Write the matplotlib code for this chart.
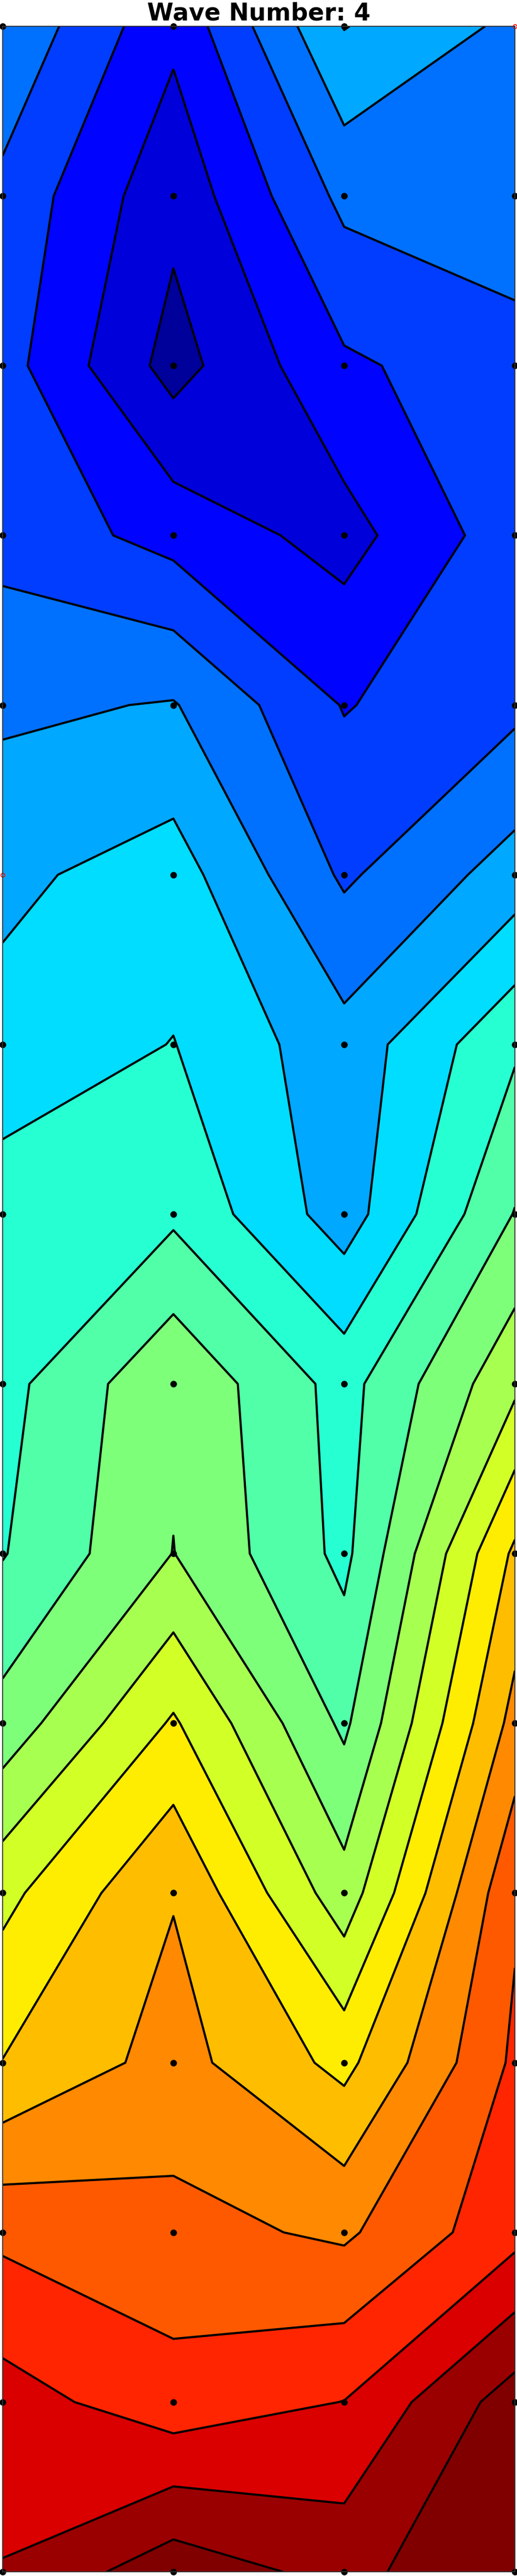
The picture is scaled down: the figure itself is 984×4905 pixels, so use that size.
import numpy as np
import matplotlib
matplotlib.use('Agg')
import matplotlib.pyplot as plt

# grid nodes
x_nodes = [0, 1, 2, 3]
y_nodes = list(range(16))

# field values down each column (top row first), in contour-level units
col0 = [4.87, 3.73, 3.41, 3.66, 4.80, 5.78, 6.33, 7.53, 7.66, 7.94, 9.38, 11.71, 13.03, 15.77, 17.43, 18.05]
col1 = [2.24, 1.29, 0.61, 2.64, 5.07, 6.46, 7.03, 7.81, 9.83, 10.02, 12.13, 13.94, 14.38, 15.31, 16.41, 19.61]
col2 = [6.04, 4.26, 2.83, 1.62, 2.94, 3.84, 5.37, 5.50, 7.63, 7.74, 8.80, 10.41, 12.71, 14.83, 17.02, 18.66]
col3 = [4.78, 4.64, 3.60, 3.57, 3.77, 5.44, 7.84, 9.05, 10.77, 13.20, 14.36, 15.85, 16.19, 16.67, 19.50, 20.00]

levels = np.arange(0, 20)

# nodes drawn as red open circles (column, row)
red_x = [3, 0]
red_y = [0, 5]

W, H, DPI = 984, 4905.4, 328
fig = plt.figure(figsize=(W / DPI, H / DPI), dpi=DPI)
ax = fig.add_axes([5 / W, 8 / H, 975 / W, (4897 - 50) / H])

X, Y = np.meshgrid(x_nodes, y_nodes)
Z = np.column_stack([col0, col1, col2, col3])

ax.contourf(X, Y, Z, levels=levels, cmap='jet', extend='max')
ax.contour(X, Y, Z, levels=levels, colors='k', linewidths=0.9)

# grid points
is_red = np.zeros(Z.shape, dtype=bool)
is_red[red_y, red_x] = True
ax.plot(X[~is_red], Y[~is_red], 'k.', markersize=3.5, clip_on=False)
ax.plot(red_x, red_y, 'o', mec='red', mfc='none', markersize=1.6, mew=0.35,
        clip_on=False)

ax.set_xlim(0, 3)
ax.set_ylim(15, 0)
ax.set_xticks([])
ax.set_yticks([])
for s in ax.spines.values():
    s.set_linewidth(0.4)
    s.set_color('#333333')

ax.set_title('Wave Number: 4', fontsize=10, fontweight='bold', pad=2.6)

fig.savefig('out.png', dpi=DPI)
